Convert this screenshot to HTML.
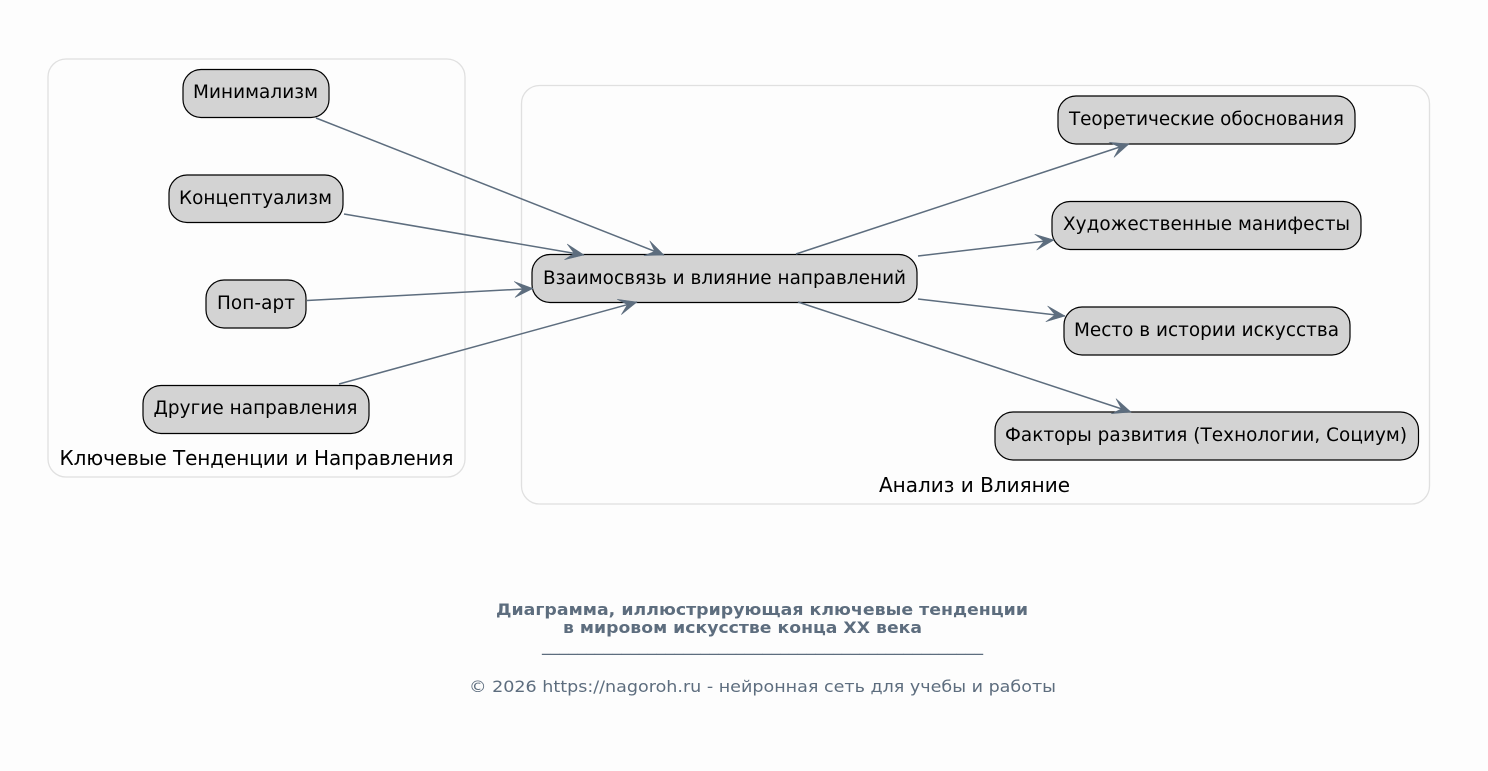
<!DOCTYPE html>
<html><head><meta charset="utf-8">
<style>
html,body{margin:0;padding:0;background:#fdfdfd;width:1488px;height:771px;overflow:hidden}
svg{display:block}
text{font-family:"DejaVu Sans",sans-serif}
.n rect{fill:#d3d3d3;stroke:#000;stroke-width:1.2}
.n text{font-size:18.4px;text-anchor:middle;fill:#000}
.c{fill:#fdfdfd;stroke:#e0e0e0;stroke-width:1.3}
.l{font-size:20px;text-anchor:middle;fill:#000}
.e{stroke:#5d6d7e;stroke-width:1.5;fill:none}
</style></head><body>
<svg width="1488" height="771" viewBox="0 0 1488 771" xmlns="http://www.w3.org/2000/svg">
<defs>
<marker id="v" markerUnits="userSpaceOnUse" markerWidth="24" markerHeight="22" refX="20" refY="10" orient="auto">
<path d="M20 10L1.500 2L10 10L1.500 18Z" fill="#5d6d7e" stroke="#5d6d7e" stroke-width="0.5"/>
</marker>
</defs>
<rect class="c" x="48" y="59" width="417" height="418" rx="18"/>
<rect class="c" x="521.500" y="85.500" width="908" height="418.500" rx="18"/>
<text class="l" x="256.500" y="465" textLength="394">Ключевые Тенденции и Направления</text>
<text class="l" x="974.500" y="492" textLength="191">Анализ и Влияние</text>
<g class="n">
<rect x="183" y="69.500" width="146" height="48" rx="18"/><text x="255.500" y="98" textLength="125">Минимализм</text>
<rect x="169" y="175" width="174" height="47.500" rx="18"/><text x="255.500" y="204" textLength="153">Концептуализм</text>
<rect x="206" y="280" width="100" height="48" rx="18"/><text x="256" y="309" textLength="78">Поп-арт</text>
<rect x="143" y="385.500" width="226" height="48" rx="18"/><text x="255.500" y="414" textLength="204">Другие направления</text>
<rect x="532" y="254.500" width="385" height="48" rx="18"/><text x="724.500" y="284" textLength="363">Взаимосвязь и влияние направлений</text>
<rect x="1058" y="96" width="297" height="48" rx="18"/><text x="1206.500" y="125" textLength="275">Теоретические обоснования</text>
<rect x="1052" y="201.500" width="309" height="48" rx="18"/><text x="1206.500" y="230" textLength="287">Художественные манифесты</text>
<rect x="1064" y="307" width="286" height="48" rx="18"/><text x="1206.500" y="336" textLength="265">Место в истории искусства</text>
<rect x="995" y="412" width="423.500" height="48" rx="18"/><text x="1206" y="441" textLength="402">Факторы развития (Технологии, Социум)</text>
</g>
<g class="e">
<path marker-end="url(#v)" d="M316 118L664 255"/>
<path marker-end="url(#v)" d="M344 214L584 255"/>
<path marker-end="url(#v)" d="M307 300.500L533 288.500"/>
<path marker-end="url(#v)" d="M339 384L637 302"/>
<path marker-end="url(#v)" d="M796 254L1129 144"/>
<path marker-end="url(#v)" d="M918 256L1054 240"/>
<path marker-end="url(#v)" d="M918 299L1065 316"/>
<path marker-end="url(#v)" d="M798 302L1131 412"/>
</g>
<text x="762" y="615" text-anchor="middle" font-size="16" font-weight="700" fill="#5d6d7e" textLength="532" lengthAdjust="spacingAndGlyphs">Диаграмма, иллюстрирующая ключевые тенденции</text>
<text x="742.500" y="633" text-anchor="middle" font-size="16" font-weight="700" fill="#5d6d7e" textLength="359" lengthAdjust="spacingAndGlyphs">в мировом искусстве конца XX века</text>
<text x="762.500" y="651" text-anchor="middle" font-size="17.6" fill="#5d6d7e" textLength="441">__________________________________________________</text>
<text x="762.500" y="692" text-anchor="middle" font-size="16" fill="#5d6d7e" textLength="587" lengthAdjust="spacingAndGlyphs">© 2026 https://nagoroh.ru - нейронная сеть для учебы и работы</text>
</svg>
</body></html>
